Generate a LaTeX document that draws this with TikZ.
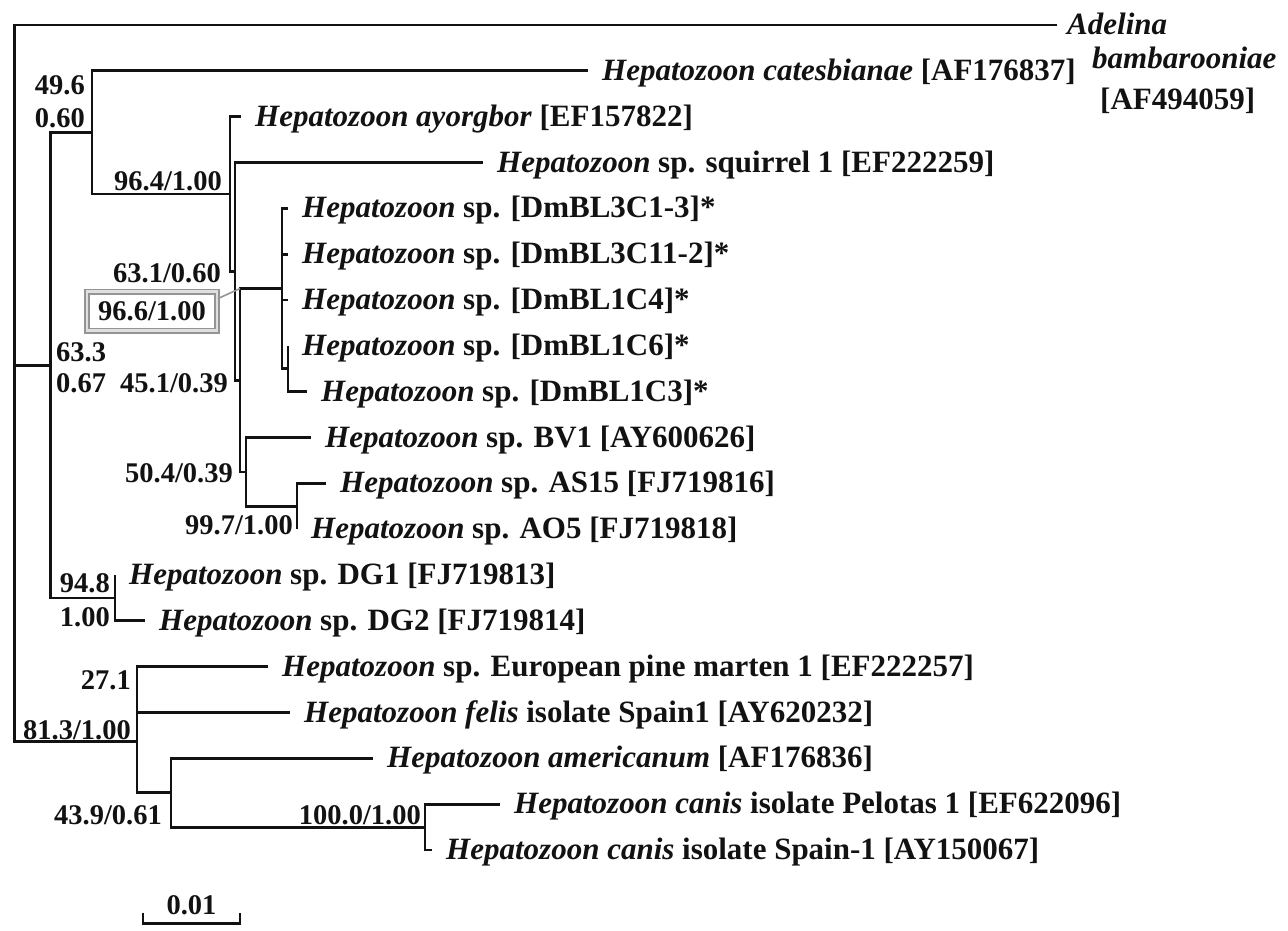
\documentclass[tikz,border=0pt]{standalone}
\usepackage{fontspec}
\setmainfont{Liberation Serif}
\usetikzlibrary{calc,positioning}
\definecolor{tinta}{rgb}{0.07,0.07,0.07}
\definecolor{grismarco}{rgb}{0.58,0.58,0.58}
\newcommand{\hepa}{\textit{Hepatozoon}}
\tikzset{
  rama/.style={
    line width=2.8pt,
    draw=tinta
  },
  taxon/.style={
    anchor=base west,
    inner sep=0pt,
    xshift=14pt,
    yshift=-9.5pt,
    text=tinta,
    font=\fontsize{31}{36}\selectfont\bfseries
  },
  soporte/.style={
    anchor=east,
    inner sep=0pt,
    text=tinta,
    font=\fontsize{28.5}{34}\selectfont\bfseries
  },
  marco/.style={
    draw=grismarco,
    line width=1.8pt,
    double=grismarco!30,
    double distance=2.4pt,
    anchor=center,
    minimum width=130pt,
    minimum height=39pt
  },
  guia/.style={
    line width=1.6pt,
    draw=grismarco
  }
}
\begin{document}
\begin{tikzpicture}[x=1pt,y=-1pt]
\useasboundingbox (0,0) rectangle (1288,930);
% nodos internos
\coordinate (raiz) at (14.5,365.2);
\coordinate (n1) at (50.5,365.2);
\coordinate (n2) at (92,132.4);
\coordinate (n3) at (230,194.0);
\coordinate (n4) at (235,271.4);
\coordinate (n5) at (240,380.2);
\coordinate (dm) at (282,288.5);
\coordinate (c63) at (288,368.8);
\coordinate (n7) at (246,471.9);
\coordinate (n99) at (297,506.3);
\coordinate (dg) at (115,597.9);
\coordinate (n8) at (137,741.2);
\coordinate (n27) at (137,689.6);
\coordinate (n9) at (171,792.7);
\coordinate (n10) at (425,827.1);
% puntas
\coordinate (ade) at (1057,25);
\coordinate (cat) at (588,70.8);
\coordinate (ayo) at (241,116.7);
\coordinate (squ) at (483,162.5);
\coordinate (c13) at (288,208.3);
\coordinate (c112) at (288,254.2);
\coordinate (c14) at (288,300);
\coordinate (c6) at (288,345.8);
\coordinate (c3) at (307,391.7);
\coordinate (bv1) at (311,437.5);
\coordinate (as15) at (326,483.3);
\coordinate (ao5) at (297,529.2);
\coordinate (dg1) at (115,575);
\coordinate (dg2) at (145,620.8);
\coordinate (pin) at (268,666.7);
\coordinate (fel) at (290,712.5);
\coordinate (ame) at (373,758.3);
\coordinate (pel) at (500,804.2);
\coordinate (spa) at (432,850);
% ramas
\draw[rama] (raiz) |- (ade) (raiz) -- (n1) (raiz) |- (n8);
\draw[rama] (n1) |- (n2) (n1) |- (dg);
\draw[rama] (n2) |- (cat) (n2) |- (n3);
\draw[rama] (n3) |- (ayo) (n3) |- (n4);
\draw[rama] (n4) |- (squ) (n4) |- (n5);
\draw[rama] (n5) |- (dm) (n5) |- (n7);
\draw[rama] (dm) |- (c13) (dm) |- (c112) (dm) |- (c14) (dm) |- (c63);
\draw[rama] (c63) |- (c6) (c63) |- (c3);
\draw[rama] (n7) |- (bv1) (n7) |- (n99);
\draw[rama] (n99) |- (as15) (n99) |- (ao5);
\draw[rama] (dg) |- (dg1) (dg) |- (dg2);
\draw[rama] (n8) |- (n27) (n8) |- (n9);
\draw[rama] (n27) |- (pin) (n27) |- (fel);
\draw[rama] (n9) |- (ame) (n9) |- (n10);
\draw[rama] (n10) |- (pel) (n10) |- (spa);
% taxones
\node[taxon,xshift=-4pt] (tade) at (ade) {\textit{Adelina}};
\node[taxon] (tbamb) at (1078,59) {\textit{bambarooniae}};
\node[taxon] (tacc) at (1086,100) {[AF494059]};
\node[taxon] (tcat) at (cat) {\hepa\ \textit{catesbianae} [AF176837]};
\node[taxon] (tayo) at (ayo) {\hepa\ \textit{ayorgbor} [EF157822]};
\node[taxon] (tsqu) at (squ) {\hepa\ sp. squirrel 1 [EF222259]};
\node[taxon] (tc13) at (c13) {\hepa\ sp. [DmBL3C1-3]*};
\node[taxon] (tc112) at (c112) {\hepa\ sp. [DmBL3C11-2]*};
\node[taxon] (tc14) at (c14) {\hepa\ sp. [DmBL1C4]*};
\node[taxon] (tc6) at (c6) {\hepa\ sp. [DmBL1C6]*};
\node[taxon] (tc3) at (c3) {\hepa\ sp. [DmBL1C3]*};
\node[taxon] (tbv1) at (bv1) {\hepa\ sp. BV1 [AY600626]};
\node[taxon] (tas15) at (as15) {\hepa\ sp. AS15 [FJ719816]};
\node[taxon] (tao5) at (ao5) {\hepa\ sp. AO5 [FJ719818]};
\node[taxon] (tdg1) at (dg1) {\hepa\ sp. DG1 [FJ719813]};
\node[taxon] (tdg2) at (dg2) {\hepa\ sp. DG2 [FJ719814]};
\node[taxon] (tpin) at (pin) {\hepa\ sp. European pine marten 1 [EF222257]};
\node[taxon] (tfel) at (fel) {\hepa\ \textit{felis} isolate Spain1 [AY620232]};
\node[taxon] (tame) at (ame) {\hepa\ \textit{americanum} [AF176836]};
\node[taxon] (tpel) at (pel) {\hepa\ \textit{canis} isolate Pelotas 1 [EF622096]};
\node[taxon] (tspa) at (spa) {\hepa\ \textit{canis} isolate Spain-1 [AY150067]};
% soportes
\node[soporte] (s49) at (85,85) {49.6};
\node[soporte] (s49b) at (85,118) {0.60};
\node[soporte] (s96) at (222,181) {96.4/1.00};
\node[soporte] (s63) at (221,273) {63.1/0.60};
\node[soporte,marco] (caja) at (152,311) {96.6/1.00};
\draw[guia] ([yshift=-8pt]caja.north east) -- (n5 |- dm);
\node[soporte,anchor=west] (s633) at (56,352) {63.3};
\node[soporte,anchor=west] (s633b) at (56,383) {0.67};
\node[soporte] (s45) at (228,383) {45.1/0.39};
\node[soporte] (s50) at (233,473) {50.4/0.39};
\node[soporte] (s997) at (293,525) {99.7/1.00};
\node[soporte] (s948) at (110,583) {94.8};
\node[soporte] (s948b) at (110,617) {1.00};
\node[soporte] (s27) at (131,680) {27.1};
\node[soporte] (s81) at (131,730) {81.3/1.00};
\node[soporte] (s43) at (162,815) {43.9/0.61};
\node[soporte] (s100) at (421,815) {100.0/1.00};
% escala
\coordinate (e0) at (143,923.5);
\coordinate (e1) at (240,923.5);
\draw[rama,line width=2.4pt] ([yshift=11pt]e0) -- (e0) -- (e1) -- ([yshift=11pt]e1);
\coordinate (em) at ($(e0)!.5!(e1)$);
\node[soporte,above=8pt of em] (escala) {0.01};
\end{tikzpicture}
\end{document}
